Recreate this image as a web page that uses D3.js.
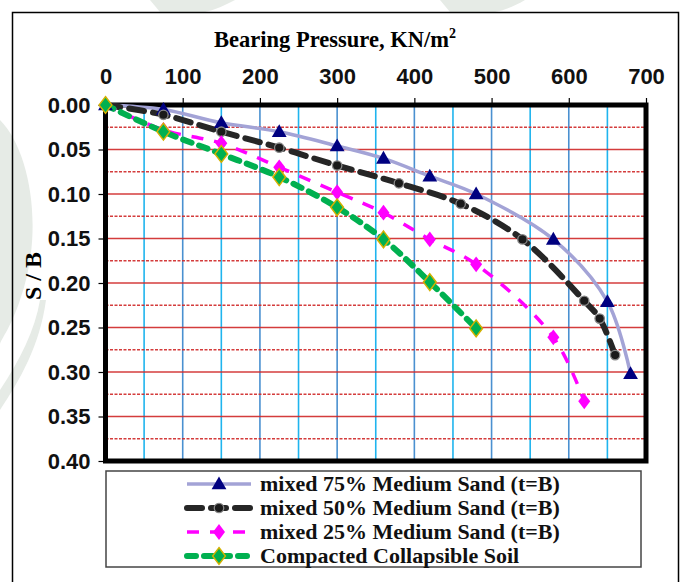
<!DOCTYPE html>
<html>
<head>
<meta charset="utf-8">
<script src="https://cdn.jsdelivr.net/npm/d3@7"></script>
<style>
  body { margin: 0; background: #fff; }
  svg { display: block; }
</style>
</head>
<body>
<svg id="chart" width="685" height="582"></svg>
<script>
// Plate load test curves: settlement ratio vs bearing pressure
const xTicks = [0, 100, 200, 300, 400, 500, 600, 700];
const yTicks = [0, 0.05, 0.10, 0.15, 0.20, 0.25, 0.30, 0.35, 0.40];

const pressure75 = [0, 75, 150, 225, 300, 360, 420, 480, 580, 650, 680];
const sb75 = [0, 0.005, 0.02, 0.03, 0.046, 0.06, 0.08, 0.10, 0.151, 0.221, 0.302];

const pressure50 = [0, 75, 150, 225, 300, 380, 460, 540, 620, 640, 660];
const sb50 = [0, 0.011, 0.03, 0.048, 0.068, 0.088, 0.111, 0.151, 0.22, 0.24, 0.281];

const pressure25 = [0, 75, 150, 225, 300, 360, 420, 480, 580, 620];
const sb25 = [0, 0.028, 0.043, 0.07, 0.098, 0.121, 0.151, 0.179, 0.261, 0.333];

const pressureCS = [0, 75, 150, 225, 300, 360, 420, 480];
const sbCS = [0, 0.03, 0.055, 0.081, 0.115, 0.151, 0.199, 0.251];

const seriesNames = [
  'mixed 75% Medium Sand (t=B)',
  'mixed 50% Medium Sand (t=B)',
  'mixed 25% Medium Sand (t=B)',
  'Compacted Collapsible Soil'
];

const series = [
  { name: seriesNames[0], xs: pressure75, ys: sb75, stroke: '#a3a3d6', width: 3.5, dash: null, cap: 'butt',
    marker: 'triangle', mFill: '#000080', mStroke: 'none', mSize: 95 },
  { name: seriesNames[1], xs: pressure50, ys: sb50, stroke: '#262626', width: 6, dash: '15,9', cap: 'round',
    marker: 'circle', mFill: '#1a1a1a', mStroke: '#888', mSize: 70 },
  { name: seriesNames[2], xs: pressure25, ys: sb25, stroke: '#ff00ff', width: 3.5, dash: '12,11', cap: 'butt',
    marker: 'diamond', mFill: '#ff00ff', mStroke: 'none', mSize: 80 },
  { name: seriesNames[3], xs: pressureCS, ys: sbCS, stroke: '#00b050', width: 6, dash: '9,8', cap: 'round',
    marker: 'diamond', mFill: '#00b050', mStroke: '#d4b000', mSize: 90 }
];

const svg = d3.select('#chart');
const plot = { left: 105.5, right: 646, top: 105, bottom: 461 };

const x = d3.scaleLinear().domain([0, 700]).range([plot.left, plot.right]);
const y = d3.scaleLinear().domain([0, 0.40]).range([plot.top, plot.bottom]);

// faint watermark swooshes in the background
const wm = svg.append('g').attr('fill', '#e6ebe6');
wm.append('path').attr('d', 'M0,120 C30,150 45,230 20,300 C10,330 0,340 0,345 Z');
wm.append('path').attr('d', 'M0,390 C20,360 35,330 40,300 L46,300 C40,345 20,380 0,410 Z');
wm.append('path').attr('d', 'M150,0 L235,0 C225,5 215,10 205,12 L160,12 Z');
wm.append('path').attr('d', 'M440,0 L525,0 C515,6 505,10 495,12 L450,12 Z');

// outer chart border
svg.append('rect')
  .attr('x', 12.5).attr('y', 12.5)
  .attr('width', 666).attr('height', 600)
  .attr('fill', 'none').attr('stroke', '#000').attr('stroke-width', 1.5);

// white plot background
svg.append('rect')
  .attr('x', plot.left).attr('y', plot.top)
  .attr('width', plot.right - plot.left).attr('height', plot.bottom - plot.top)
  .attr('fill', '#fff');

// title
svg.append('text')
  .attr('x', 335).attr('y', 47)
  .attr('text-anchor', 'middle')
  .attr('font-family', '"Liberation Serif", "Times New Roman", serif')
  .attr('font-weight', 'bold').attr('font-size', 22.5)
  .text('Bearing Pressure, KN/m')
  .append('tspan').attr('dy', -9).attr('font-size', 14).text('2');

// y axis title
svg.append('text')
  .attr('transform', 'translate(41,276) rotate(-90)')
  .attr('text-anchor', 'middle')
  .attr('font-family', '"Liberation Serif", "Times New Roman", serif')
  .attr('font-weight', 'bold').attr('font-size', 24)
  .text('S / B');

// vertical gridlines every 50
const vGrid = d3.range(50, 700, 50);
svg.append('g').selectAll('line')
  .data(vGrid).enter().append('line')
  .attr('x1', d => x(d)).attr('x2', d => x(d))
  .attr('y1', plot.top).attr('y2', plot.bottom)
  .attr('stroke', d => d % 100 === 0 ? '#4a90d0' : '#1fb4ee')
  .attr('stroke-width', 1.6);

// horizontal gridlines: solid at 0.05, dashed at 0.025
const hGrid = d3.range(1, 16).map(i => i * 0.025);
svg.append('g').selectAll('line')
  .data(hGrid).enter().append('line')
  .attr('x1', plot.left).attr('x2', plot.right)
  .attr('y1', d => y(d)).attr('y2', d => y(d))
  .attr('stroke', '#d02828')
  .attr('stroke-width', (d, i) => i % 2 ? 1.6 : 1.4)
  .attr('stroke-dasharray', (d, i) => i % 2 ? null : '3,1.5')
  .attr('opacity', 0.9);

// top axis (x)
const xAxis = svg.append('g')
  .attr('transform', `translate(0,${plot.top})`)
  .call(d3.axisTop(x).tickValues(xTicks).tickSize(7).tickPadding(14).tickFormat(d3.format('d')));
xAxis.select('.domain').remove();
xAxis.selectAll('line').attr('stroke', '#000').attr('stroke-width', 1.2);
xAxis.selectAll('text')
  .attr('font-family', '"Liberation Sans", Arial, sans-serif')
  .attr('font-weight', 'bold').attr('font-size', 22).attr('fill', '#111');

// left axis (y)
const yAxis = svg.append('g')
  .attr('transform', `translate(${plot.left},0)`)
  .call(d3.axisLeft(y).tickValues(yTicks).tickSize(7).tickPadding(8).tickFormat(d3.format('.2f')));
yAxis.select('.domain').remove();
yAxis.selectAll('line').attr('stroke', '#000').attr('stroke-width', 1.2);
yAxis.selectAll('text')
  .attr('font-family', '"Liberation Sans", Arial, sans-serif')
  .attr('font-weight', 'bold').attr('font-size', 22).attr('fill', '#111');

// thick plot frame
svg.append('rect')
  .attr('x', plot.left).attr('y', plot.top)
  .attr('width', plot.right - plot.left).attr('height', plot.bottom - plot.top)
  .attr('fill', 'none').attr('stroke', '#000').attr('stroke-width', 5);

const symbolType = { triangle: d3.symbolTriangle, circle: d3.symbolCircle, diamond: d3.symbolDiamond };

function drawMarker(g, s, px, py) {
  const sym = d3.symbol().type(symbolType[s.marker]).size(s.mSize);
  const p = g.append('path')
    .attr('d', sym())
    .attr('transform', s.marker === 'diamond'
      ? `translate(${px},${py}) scale(1.25,0.95)`
      : `translate(${px},${py + (s.marker === 'triangle' ? 1 : 0)})`)
    .attr('fill', s.mFill);
  if (s.mStroke !== 'none') p.attr('stroke', s.mStroke).attr('stroke-width', 1.3);
}

const line = d3.line()
  .x(d => x(d[0])).y(d => y(d[1]))
  .curve(d3.curveCatmullRom.alpha(0.5));

const seriesG = svg.append('g');
series.forEach(s => {
  const pts = s.xs.map((v, i) => [v, s.ys[i]]);
  seriesG.append('path')
    .datum(pts)
    .attr('d', line)
    .attr('fill', 'none')
    .attr('stroke', s.stroke)
    .attr('stroke-width', s.width)
    .attr('stroke-linecap', s.cap)
    .attr('stroke-dasharray', s.dash);
});
series.forEach(s => {
  const g = seriesG.append('g');
  s.xs.forEach((v, i) => drawMarker(g, s, x(v), y(s.ys[i])));
});

// legend
const legend = svg.append('g');
legend.append('rect')
  .attr('x', 106).attr('y', 471).attr('width', 535).attr('height', 96)
  .attr('fill', '#fff').attr('stroke', '#444').attr('stroke-width', 1.5);

series.forEach((s, i) => {
  const ly = 484 + i * 24;
  legend.append('line')
    .attr('x1', 187).attr('x2', 251).attr('y1', ly).attr('y2', ly)
    .attr('stroke', s.stroke).attr('stroke-width', s.width)
    .attr('stroke-linecap', s.cap)
    .attr('stroke-dasharray', s.dash);
  drawMarker(legend, s, 219, ly);
  legend.append('text')
    .attr('x', 260).attr('y', ly + 7)
    .attr('font-family', '"Liberation Serif", "Times New Roman", serif')
    .attr('font-weight', 'bold').attr('font-size', 22).attr('fill', '#111')
    .text(s.name);
});
</script>
</body>
</html>
